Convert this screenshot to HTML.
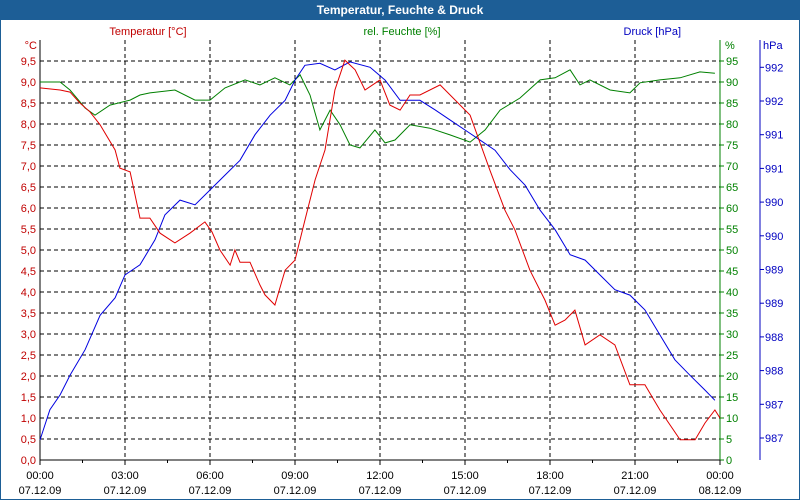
<!DOCTYPE html>
<html><head><meta charset="utf-8"><style>
html,body{margin:0;padding:0;background:#fff}
svg{display:block;font-family:"Liberation Sans",sans-serif;font-size:11px}
</style></head><body>
<svg id="c" width="800" height="500" viewBox="0 0 800 500">
<rect x="0.5" y="0.5" width="799" height="499" fill="#fff" stroke="#1d5e96"/>
<rect x="0" y="0" width="800" height="20" fill="#1d5e96"/>
<text x="400" y="14" text-anchor="middle" fill="#fff" font-weight="bold" font-size="12">Temperatur, Feuchte &amp; Druck</text>
<text x="148" y="35" text-anchor="middle" fill="#c00000">Temperatur [°C]</text>
<text x="402" y="35" text-anchor="middle" fill="#008000">rel. Feuchte [%]</text>
<text x="681" y="35" text-anchor="end" fill="#0000c0">Druck [hPa]</text>
<text x="37" y="49" text-anchor="end" fill="#c00000">°C</text>
<text x="725" y="49" fill="#008000">%</text>
<text x="763" y="49" fill="#0000c0">hPa</text>
<g id="grid"></g><g id="axes"></g><g id="series"></g>
</svg>
<script>
const tempHours=[0,0.71,1.06,1.41,1.76,2.12,2.65,2.82,3.18,3.53,3.88,4.24,4.76,5.29,5.82,6.07,6.35,6.71,6.88,7.06,7.41,7.76,7.94,8.29,8.65,9.0,9.35,9.71,10.06,10.41,10.76,11.12,11.47,12.0,12.35,12.71,13.06,13.41,14.12,15.18,15.88,16.41,16.76,17.29,17.82,18.18,18.53,18.88,19.24,19.76,20.29,20.82,21.35,21.88,22.59,23.12,23.47,23.82,24];
const tempValues=[8.86,8.81,8.76,8.5,8.29,7.98,7.38,6.95,6.86,5.76,5.76,5.4,5.17,5.4,5.67,5.43,5.0,4.64,5.0,4.71,4.71,4.17,3.93,3.69,4.52,4.76,5.71,6.67,7.38,8.81,9.52,9.29,8.81,9.05,8.45,8.33,8.69,8.69,8.93,8.21,6.9,5.95,5.48,4.52,3.81,3.21,3.33,3.57,2.74,2.98,2.74,1.79,1.79,1.19,0.48,0.48,0.88,1.19,1.0];
const humHours=[0,0.71,1.06,1.59,1.94,2.47,3.18,3.53,3.88,4.76,5.47,6.0,6.53,7.24,7.76,8.29,8.82,9.18,9.53,9.88,10.24,10.59,10.94,11.29,11.82,12.18,12.53,13.06,13.76,14.47,15.18,15.71,16.24,16.94,17.65,18.18,18.71,19.06,19.41,20.12,20.82,21.18,21.88,22.59,23.29,23.82];
const humValues=[90,90,88.1,83.8,82.1,84.5,85.7,86.9,87.4,88.1,85.7,85.7,88.6,90.5,89.3,91,89.3,91.7,86.9,78.6,83.3,79.8,75,74.3,78.6,75.5,76.2,79.8,79,77.4,75.7,78.6,83.3,86.2,90.5,91,92.9,89.3,90.5,88.1,87.4,89.8,90.5,91,92.4,92.1];
const pressHours=[0,0.35,0.71,1.06,1.59,2.12,2.65,3.0,3.53,4.06,4.41,4.94,5.47,6.0,6.53,7.06,7.59,8.12,8.65,9.0,9.35,9.88,10.41,10.94,11.65,12.18,12.71,13.41,13.94,14.47,15.0,15.53,16.06,16.59,17.12,17.65,18.18,18.71,19.24,19.76,20.29,20.82,21.35,21.88,22.41,22.94,23.47,23.82];
const pressValues=[986.72,987.17,987.39,987.68,988.06,988.57,988.83,989.17,989.32,989.69,990.06,990.28,990.21,990.43,990.65,990.87,991.25,991.54,991.76,992.06,992.28,992.31,992.21,992.33,992.25,992.06,991.76,991.76,991.62,991.47,991.32,991.17,991.02,990.73,990.5,990.13,989.84,989.47,989.39,989.17,988.95,988.87,988.65,988.28,987.91,987.68,987.46,987.31];
const timeLabels=["00:00","03:00","06:00","09:00","12:00","15:00","18:00","21:00","00:00"];
const dateLabels=["07.12.09","07.12.09","07.12.09","07.12.09","07.12.09","07.12.09","07.12.09","07.12.09","08.12.09"];
const tempTicks=[0,0.5,1,1.5,2,2.5,3,3.5,4,4.5,5,5.5,6,6.5,7,7.5,8,8.5,9,9.5];
const humTicks=[0,5,10,15,20,25,30,35,40,45,50,55,60,65,70,75,80,85,90,95];
const pressTicks=[986.75,987.25,987.75,988.25,988.75,989.25,989.75,990.25,990.75,991.25,991.75,992.25];

const L=40,R=720,T=40,B=460;
const xS=h=>L+h/24*(R-L);
const yT=v=>B-v/10*(B-T);
const yH=v=>B-v/100*(B-T);
const yP=v=>438-(v-986.75)*67.4;
const NS="http://www.w3.org/2000/svg";
function mk(tag,attrs,parent,txt){const e=document.createElementNS(NS,tag);for(const k in attrs)e.setAttribute(k,attrs[k]);if(txt!==undefined)e.textContent=txt;parent.appendChild(e);return e;}
const grid=document.getElementById('grid'),axes=document.getElementById('axes'),ser=document.getElementById('series');

tempTicks.forEach((v,i)=>{
  const y=yT(v);
  if(v>0){const g=mk('line',{x1:L,x2:R,y1:y,y2:y,stroke:'#000','stroke-dasharray':'4,3'},grid);
  
  }
  const t=mk('text',{x:36,y:y+4,'text-anchor':'end',fill:'#c00000'},axes,v.toFixed(1).replace('.',','));
  
  
});
humTicks.forEach(v=>{
  const y=yH(v);
  const k=mk('line',{x1:R,x2:R+4,y1:y,y2:y,stroke:'#008000'},axes);
  
  
  const t=mk('text',{x:R+6,y:y+4,fill:'#008000'},axes,String(v));
  
  
});
pressTicks.forEach(v=>{
  const y=yP(v);
  const k=mk('line',{x1:760,x2:764,y1:y,y2:y,stroke:'#0000c0'},axes);
  
  
  const t=mk('text',{x:765,y:y+4,fill:'#0000c0'},axes,String(Math.round(v)));
  
  
});
timeLabels.forEach((s,i)=>{
  const x=xS(i*3);
  if(i>0&&i<8){const g=mk('line',{x1:x,x2:x,y1:T,y2:B,stroke:'#000','stroke-dasharray':'4,3'},grid);
  
  }
  const k=mk('line',{x1:x,x2:x,y1:B,y2:B+5,stroke:'#000'},axes);
  
  
  if(i<8){const m=mk('line',{x1:xS(i*3+1.5),x2:xS(i*3+1.5),y1:B,y2:B+3,stroke:'#000'},axes);
  
  }
  const t=mk('text',{x:x,y:479,'text-anchor':'middle',fill:'#000'},axes,s);
  
  
  const d=mk('text',{x:x,y:494,'text-anchor':'middle',fill:'#000'},axes,dateLabels[i]);
  
  
});
const a1=mk('line',{x1:L,x2:L,y1:T,y2:B,stroke:'#000'},axes);


const a2=mk('line',{x1:L,x2:R,y1:B,y2:B,stroke:'#000'},axes);


const a3=mk('line',{x1:R,x2:R,y1:T,y2:B,stroke:'#008000'},axes);


const a4=mk('line',{x1:760,x2:760,y1:T,y2:B,stroke:'#0000c0'},axes);



function pts(hs,vs,yf){return hs.map((h,i)=>xS(h).toFixed(1)+','+yf(vs[i]).toFixed(1)).join(' ');}
const pH=mk('polyline',{points:pts(humHours,humValues,yH),fill:'none',stroke:'#008000'},ser);


const pP=mk('polyline',{points:pts(pressHours,pressValues,yP),fill:'none',stroke:'#0000e0'},ser);


const pT=mk('polyline',{points:pts(tempHours,tempValues,yT),fill:'none',stroke:'#e00000'},ser);


</script>
</body></html>
